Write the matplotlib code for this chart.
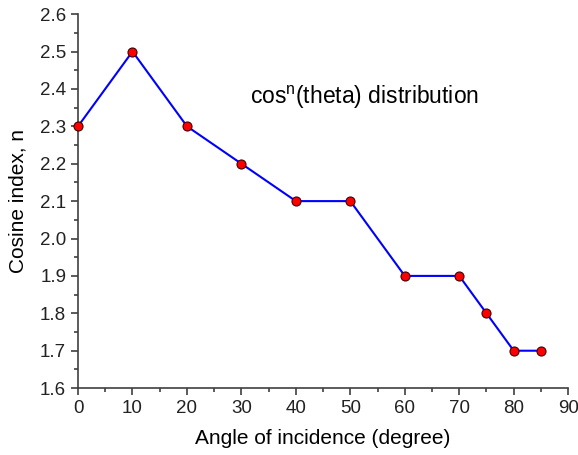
import matplotlib.pyplot as plt
from matplotlib.ticker import MultipleLocator

plt.rcParams['font.family'] = ['Liberation Sans', 'DejaVu Sans']

# angle of incidence (degree) and cosine index n
angle = [0, 10, 20, 30, 40, 50, 60, 70, 75, 80, 85]
cos_n = [2.3, 2.5, 2.3, 2.2, 2.1, 2.1, 1.9, 1.9, 1.8, 1.7, 1.7]

fig = plt.figure(figsize=(5.78, 4.55), dpi=100)
ax = fig.add_axes([0.135, 0.147, 0.848, 0.822])

ax.plot(angle, cos_n, color='blue', lw=1.5, marker='o', markersize=6.5,
        markerfacecolor='red', markeredgecolor='#400000', markeredgewidth=0.8,
        clip_on=False, zorder=3)

ax.set_xlim(0, 90)
ax.set_ylim(1.6, 2.6)
ax.xaxis.set_major_locator(MultipleLocator(10))
ax.xaxis.set_minor_locator(MultipleLocator(5))
ax.yaxis.set_major_locator(MultipleLocator(0.1))
ax.yaxis.set_minor_locator(MultipleLocator(0.05))
ax.yaxis.set_major_formatter(plt.FormatStrFormatter('%.1f'))

for s in ['top', 'right']:
    ax.spines[s].set_visible(False)
for s in ['left', 'bottom']:
    ax.spines[s].set_color('#404040')
    ax.spines[s].set_linewidth(1.2)

ax.tick_params(which='major', direction='out', length=5, width=1.2,
               color='#404040', labelsize=13.5, labelcolor='#222222')
ax.tick_params(which='minor', direction='out', length=3, width=1.2,
               color='#404040')

ax.set_xlabel('Angle of incidence (degree)', fontsize=15, labelpad=9)
ax.set_ylabel('Cosine index, n', fontsize=15, labelpad=9)

ax.text(31.5, 2.378, r'cos$^{\mathregular{n}}$(theta) distribution',
        fontsize=16.5, va='center')

fig.savefig('out.png', dpi=100)
